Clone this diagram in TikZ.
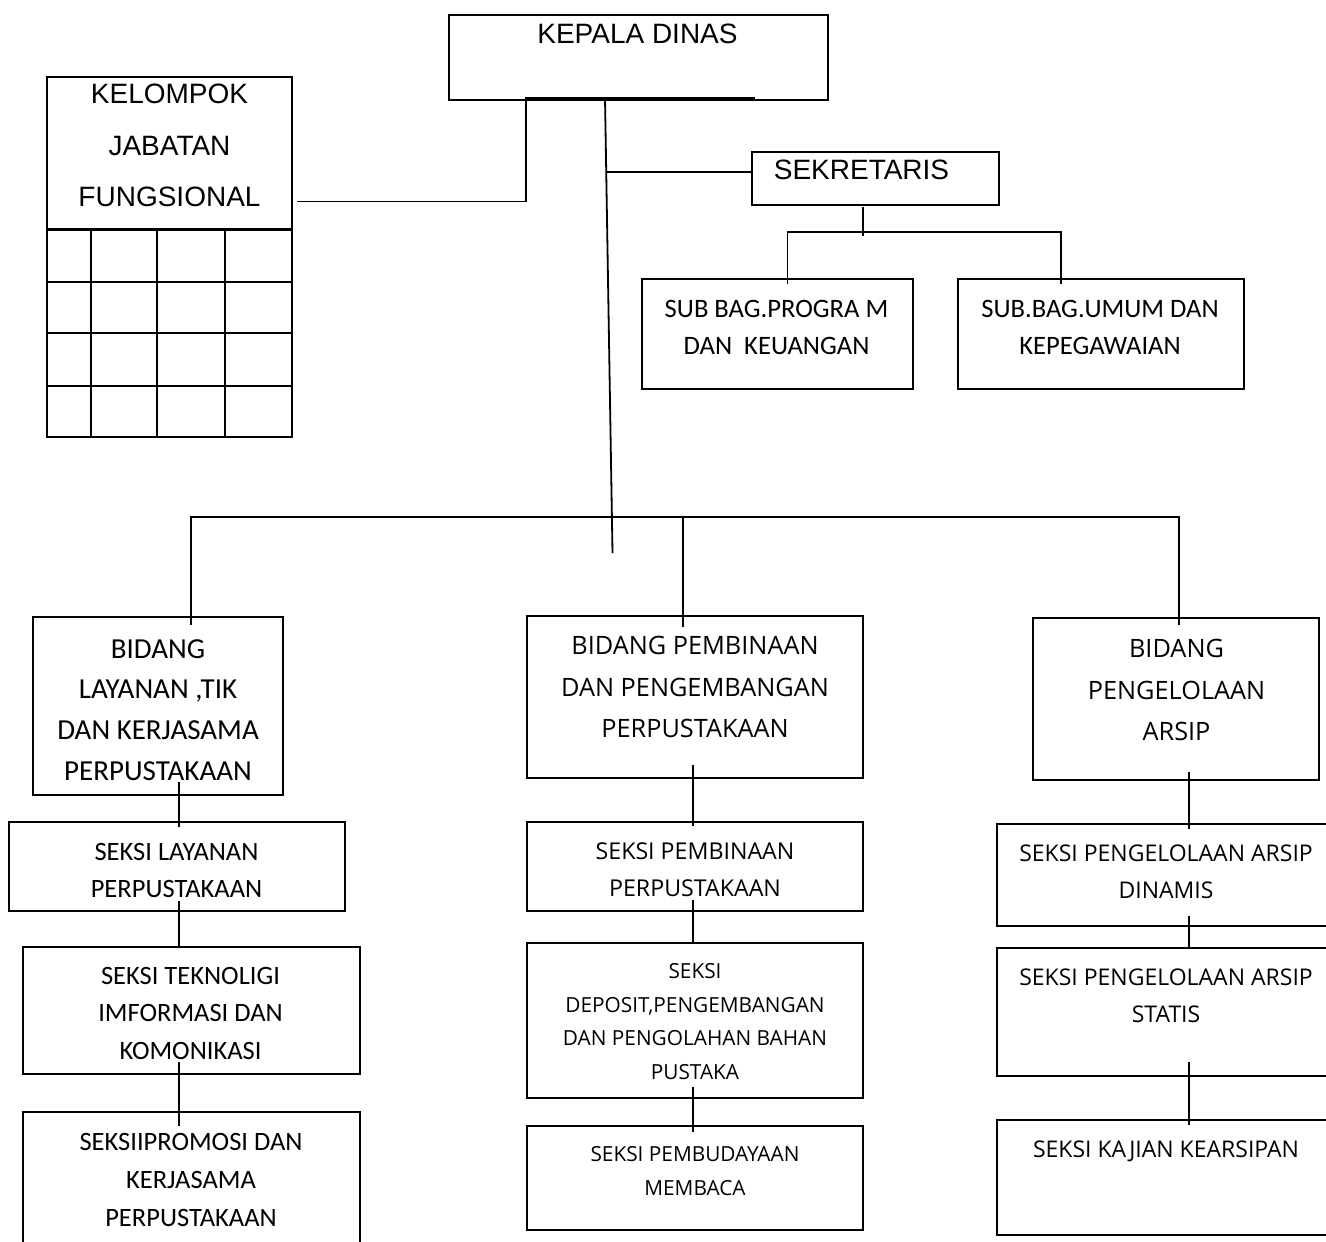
\documentclass[tikz,border=0pt]{standalone}
\usepackage{fontspec}
\setmainfont{Carlito}
\newfontfamily\arialf{Liberation Sans}
\newfontfamily\widef{Open Sans}
\usetikzlibrary{calc}

\tikzset{
  box/.style={draw, line width=1pt, inner sep=0pt, outer sep=0pt},
  sz/.style 2 args={minimum width=#1*0.5pt, minimum height=#2*0.5pt},
  txt/.style={anchor=north, align=center, inner sep=0pt},
  conn/.style={line width=0.9pt},
}

\begin{document}
\begin{tikzpicture}[x=0.5pt,y=-0.5pt]
	\fill[white] (0,0) rectangle (1326,1241);
	\useasboundingbox (0,0) rectangle (1326,1241);
	% top part
	\node[box,sz={379}{85}] (kadis) at (638.5,57.5) {};
	\node[txt,font=\arialf\fontsize{14}{25.6}\selectfont] (kadis-t) at (637.5,24) {KEPALA DINAS};
	\node[box,sz={245}{360}] (kjf) at (169.5,257) {};
	\node[txt,font=\arialf\fontsize{14}{25.6}\selectfont] (kjf-t) at (169.5,84) {KELOMPOK\\JABATAN\\FUNGSIONAL};
	\foreach \y in {229.5,281.7,333.3,385.7}
		\draw[line width=1pt] (kjf.west |- 0,\y) -- (kjf.east |- 0,\y);
	\foreach \x in {91,156.7,225}
		\draw[line width=1pt] (\x,229.5) -- (kjf.south -| \x,0);
	\node[box,sz={247}{53}] (sek) at (875,178.5) {};
	\node[txt,font=\arialf\fontsize{14}{25.6}\selectfont] (sek-t) at (861.5,159.5) {SEKRETARIS};
	\node[box,sz={271.5}{110}] (sbprog) at (777.25,334) {};
	\node[txt,font=\fontsize{13.3}{18.35}\selectfont] (sbprog-t) at (776.5,299.7) {SUB BAG.PROGRA M\\DAN\ \ KEUANGAN};
	\node[box,sz={286}{110}] (sbumum) at (1100.5,334) {};
	\node[txt,font=\fontsize{13.3}{18.35}\selectfont] (sbumum-t) at (1100,299.7) {SUB.BAG.UMUM DAN\\KEPEGAWAIAN};
	% bidang
	\node[box,sz={250}{178}] (bdlay) at (158,706) {};
	\node[txt,font=\fontsize{14.5}{20.3}\selectfont] (bdlay-t) at (158,639) {BIDANG\\LAYANAN ,TIK\\DAN KERJASAMA\\PERPUSTAKAAN};
	\node[box,sz={336}{162.5}] (bdbin) at (695,696.75) {};
	\node[txt,font=\widef\fontsize{12.65}{20.7}\selectfont] (bdbin-t) at (695,636) {BIDANG PEMBINAAN\\DAN PENGEMBANGAN\\PERPUSTAKAAN};
	\node[box,sz={286}{162}] (bdars) at (1176,699) {};
	\node[txt,font=\widef\fontsize{12.65}{20.7}\selectfont] (bdars-t) at (1176.5,639) {BIDANG\\PENGELOLAAN\\ARSIP};
	% seksi kiri
	\node[box,sz={336}{89}] (sklay) at (177,866.5) {};
	\node[txt,font=\fontsize{13.25}{18.6}\selectfont] (sklay-t) at (176.5,842.5) {SEKSI LAYANAN\\PERPUSTAKAAN};
	\node[box,sz={337}{127.5}] (sktik) at (191,1010.25) {};
	\node[txt,font=\fontsize{13.25}{18.75}\selectfont] (sktik-t) at (190.5,966.5) {SEKSI TEKNOLIGI\\IMFORMASI DAN\\KOMONIKASI};
	\node[box,sz={337}{148}] (skpro) at (191,1186) {};
	\node[txt,font=\fontsize{13.25}{19}\selectfont] (skpro-t) at (191,1132.5) {SEKSIIPROMOSI DAN\\KERJASAMA\\PERPUSTAKAAN};
	% seksi tengah
	\node[box,sz={336}{89}] (skbin) at (695,866.5) {};
	\node[txt,font=\widef\fontsize{11.6}{18.1}\selectfont] (skbin-t) at (695,842.7) {SEKSI PEMBINAAN\\PERPUSTAKAAN};
	\node[box,sz={336}{154.5}] (skdep) at (695,1020.25) {};
	\node[txt,font=\widef\fontsize{10.4}{16.8}\selectfont] (skdep-t) at (695,963.2) {SEKSI\\DEPOSIT,PENGEMBANGAN\\DAN PENGOLAHAN BAHAN\\PUSTAKA};
	\node[box,sz={336}{103.5}] (skbud) at (695,1177.75) {};
	\node[txt,font=\widef\fontsize{10.4}{16.8}\selectfont] (skbud-t) at (695,1146) {SEKSI PEMBUDAYAAN\\MEMBACA};
	% seksi kanan
	\node[box,sz={338}{102}] (skdin) at (1166,875) {};
	\node[txt,font=\widef\fontsize{11.5}{18.5}\selectfont] (skdin-t) at (1166,844.8) {SEKSI PENGELOLAAN ARSIP\\DINAMIS};
	\node[box,sz={338}{128.5}] (skstat) at (1166,1011.75) {};
	\node[txt,font=\widef\fontsize{11.5}{18.5}\selectfont] (skstat-t) at (1166,968.4) {SEKSI PENGELOLAAN ARSIP\\STATIS};
	\node[box,sz={338}{115}] (skkaj) at (1166,1177.5) {};
	\node[txt,font=\widef\fontsize{11.5}{18.5}\selectfont] (skkaj-t) at (1166,1140.8) {SEKSI KAJIAN KEARSIPAN};
	% garis
	\coordinate (kjf-r) at (297,201.5);
	\coordinate (bar-l) at (526,97.7);
	\coordinate (bar-r) at (755,97.7);
	\coordinate (spine-t) at (605,97.7);
	\coordinate (spine-b) at (612.5,553);
	\coordinate (spine-s) at (605.5,171.7);
	\coordinate (sek-j) at (863,231.7);
	\coordinate (sb-l) at (787.5,231.7);
	\coordinate (sb-r) at (1060.6,231.7);
	\coordinate (bus-l) at (191,517);
	\coordinate (bus-m) at (683,517);
	\coordinate (bus-r) at (1179,517);
	\coordinate (c1) at (179,0);
	\coordinate (c2) at (693.3,0);
	\coordinate (c3) at (1189.3,0);
	\draw[conn] (kjf-r) -| (bar-l) -- (bar-r);
	\draw[conn] (spine-t) -- (spine-b);
	\draw[conn] (spine-s) -- (sek.west |- spine-s);
	\draw[conn] ($(sek.south -| sek-j)+(0,2)$) -- ($(sek-j)+(0,4)$);
	\draw[conn] ($(sbprog.north -| sb-l)+(0,5)$) -- (sb-l) -- (sb-r) -- ($(sbumum.north -| sb-r)+(0,5)$);
	\draw[conn] ($(bdlay.north -| bus-l)+(0,8)$) -- (bus-l) -- (bus-r) -- ($(bdars.north -| bus-r)+(0,7)$);
	\draw[conn] (bus-m) -- ($(bdbin.north -| bus-m)+(0,11)$);
	\draw[conn] ($(bdlay.south -| c1)+(0,-13)$) -- ($(sklay.north -| c1)+(0,5)$);
	\draw[conn] ($(sklay.south -| c1)+(0,-10)$) -- (sktik.north -| c1);
	\draw[conn] ($(sktik.south -| c1)+(0,-12)$) -- ($(skpro.north -| c1)+(0,14)$);
	\draw[conn] ($(bdbin.south -| c2)+(0,-13)$) -- ($(skbin.north -| c2)+(0,4)$);
	\draw[conn] ($(skbin.south -| c2)+(0,-11)$) -- (skdep.north -| c2);
	\draw[conn] ($(skdep.south -| c2)+(0,-11)$) -- ($(skbud.north -| c2)+(0,6)$);
	\draw[conn] ($(bdars.south -| c3)+(0,-8)$) -- ($(skdin.north -| c3)+(0,5)$);
	\draw[conn] ($(skdin.south -| c3)+(0,-10)$) -- (skstat.north -| c3);
	\draw[conn] ($(skstat.south -| c3)+(0,-14)$) -- ($(skkaj.north -| c3)+(0,5)$);
\end{tikzpicture}
\end{document}
